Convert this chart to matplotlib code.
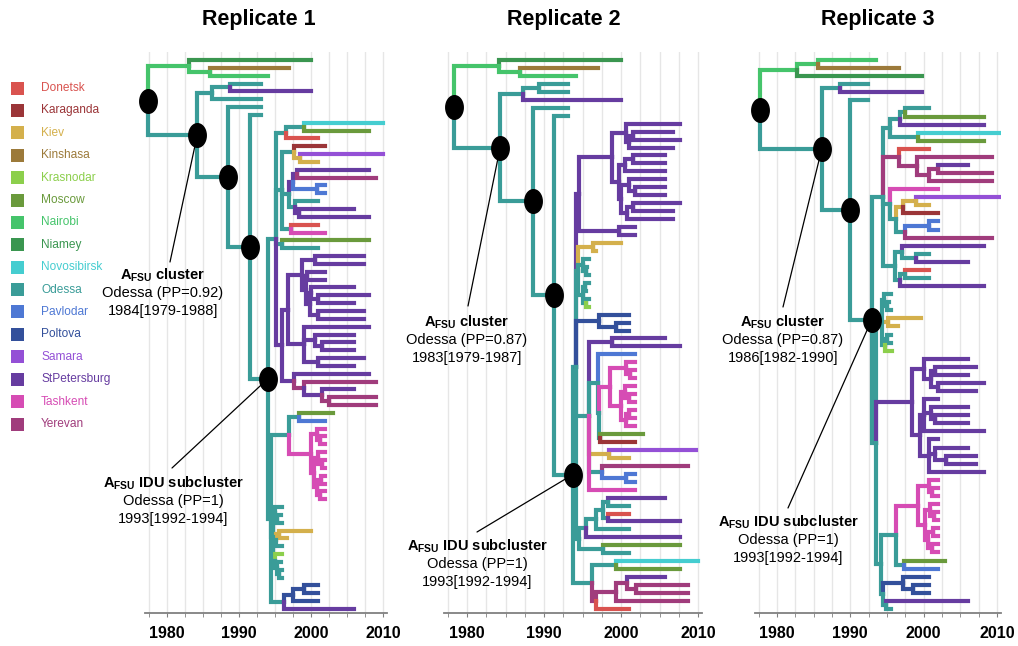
import numpy as np
import matplotlib
matplotlib.use("Agg")
import matplotlib.pyplot as plt
from matplotlib.collections import LineCollection
from matplotlib.patches import Rectangle
from matplotlib.path import Path

plt.rcParams['font.family'] = ['Liberation Sans', 'DejaVu Sans']
plt.rcParams['mathtext.fontset'] = 'custom'
plt.rcParams['mathtext.rm'] = 'Liberation Sans'
plt.rcParams['mathtext.bf'] = 'Liberation Sans:bold'

#%%
# Locations (legend) and their colours
locations = ['Donetsk', 'Karaganda', 'Kiev', 'Kinshasa', 'Krasnodar', 'Moscow',
             'Nairobi', 'Niamey', 'Novosibirsk', 'Odessa', 'Pavlodar', 'Poltova',
             'Samara', 'StPetersburg', 'Tashkent', 'Yerevan']
codes = ['Do', 'Ka', 'Ki', 'Kn', 'Kr', 'Mo', 'Na', 'Ni', 'No', 'Od', 'Pa', 'Po',
         'Sa', 'St', 'Ta', 'Ye']
colors = ['#d9534f', '#9b3538', '#d4b04c', '#9c7a3a', '#8ccf4c', '#6a9a3c',
          '#45c46b', '#3a9650', '#45cdd0', '#3a9c98', '#4e78d4', '#33509b',
          '#9450d6', '#663ca0', '#d64cb4', '#a03c7c']

#%%
# Trees: Newick-like, node = (children)LOC:year, '*' = posterior node marker
rep1 = (
    "("
    "(Ni:2000,(Kn:1997,Na:1994)Na:1986)Na:1983,"
    "("
    "((Od:1993,St:2000)Od:1988.8,Od:1993)Od:1986.3,"
    "(Od:1993,"
    "(Od:1993,"
    "("
    "("
    "((No:2010,Mo:2008)Od:1999,Do:2001)Od:1996.5,"
    "((Ka:2002,(Sa:2010,Ki:2001)Ki:1998.5)Od:1997.6,"
    "(((St:2008,Ye:2009)St:1998.1,(Pa:2002,Pa:2002)Pa:2000.9)St:1997.5,"
    "(Od:2001,(St:2006,St:2008)St:1998.3)Od:1997.8)Od:1997,"
    "(Do:2001,Ta:2002)Od:1997.2)Od:1996,"
    "(Mo:2008,Od:2001)Od:1996,"
    "("
    "("
    "((St:2007.4,St:2007.4)St:2000.5,((St:2002,St:2002)St:1999.5,((St:2006,(St:2008,St:2006)St:2001)St:2000,"
    "(St:2007.4,St:2007.4)St:2001)St:1999.8)St:1999.3)St:1998.7,"
    "(St:2008,(St:2006,(St:2006,St:2006)St:2001.5)St:2000.5,(St:2007.4,St:2006)St:2001)St:1999"
    ")St:1996.8,"
    "(St:2008,(Ye:2009,(St:2006,(Ye:2009,Ye:2009)Ye:2002.5)St:2001.5)Ye:1999)St:1997.6"
    ")St:1996"
    ")Od:1995.2,"
    "("
    "((Mo:2003,Pa:2002)Od:1998.3,"
    "((Ta:2002,(Ta:2002,Ta:2002)Ta:2001.2)Ta:2000.8,((Ta:2002,(Ta:2002,Ta:2002)Ta:2001.5)Ta:2001,"
    "((Ta:2002,Ta:2002)Ta:2001.4,(Ta:2002,Ta:2002)Ta:2001.2)Ta:2000.9)Ta:2000.4)Ta:2000"
    ")Od:1997,"
    "((Od:1996,(Od:1995.8,Od:1996)Od:1995.3)Od:1995,((Ki:2000,Ki:1996.7)Ki:1995.5,Od:1996)Od:1995.2,"
    "(Kr:1996,(Od:1995.8,(Od:1996,Od:1996)Od:1995.6)Od:1995.3)Od:1995)Od:1994.7,"
    "(((Po:2001,Po:2001)Po:1999,Po:2001)Po:1997.5,St:2006)Od:1996.2"
    ")Od:1994.5"
    ")Od:1994*"
    ")Od:1991.5*"
    ")Od:1988.5*"
    ")Od:1984.2*"
    ")Od:1977.3*"
)

rep2 = (
    "("
    "(Ni:2000,(Kn:1997,Na:1994.1)Na:1986.9)Na:1984.2,"
    "("
    "((Od:1993.1,Od:1993.1)Od:1989.3,St:2000)Od:1987.3,"
    "(Od:1993.1,"
    "(Od:1993.1,"
    "("
    "("
    "("
    "("
    "(St:2007.7,((St:2006.7,St:2007.7)St:2001.5,St:2006.7)St:2001)St:2000.7,"
    "(((St:2005.7,St:2005.7)St:2001.5,St:2005.7)St:2000.5,((St:2005.7,(St:2005.7,St:2005.7)St:2001.8)St:2001,"
    "((St:2007.7,St:2006.7)St:2001.5,St:2006.7)St:2000.8)St:2000)St:1999.8"
    ")St:1998.8,"
    "(St:2001.8,St:2001.8)St:1999.8"
    ")St:1994.5,"
    "((Ki:2000,Ki:1996.8)Ki:1996.4,(Od:1995.8,(Od:1995.6,Od:1995.8)Od:1995.4)Od:1995.1,"
    "((Od:1995.8,Od:1995.5)Od:1995.3,(Od:1995.8,Kr:1995.9)Od:1995.4)Od:1995)Od:1994.4,"
    "(Po:2001,(Po:2001,Po:2001)Po:1999.3)Po:1997.2,"
    "("
    "(St:2005.7,St:2007.7)St:1998.8,"
    "(Pa:2001.8,("
    "((Ta:2001.8,(Ta:2001.8,Ta:2001.8)Ta:2001.2)Ta:2000.7,((Ta:2001.8,(Ta:2001.8,Ta:2001.8)Ta:2001)Ta:2000.5,"
    "((Ta:2001.8,Ta:2001.8)Ta:2001,Ta:2001.8)Ta:2000.6)Ta:2000)Ta:1998.6,"
    "(Mo:2002.9,Ka:2001.8)Od:1997.3"
    ")Od:1997.1)Od:1997,"
    "(Sa:2009.7,Ki:2001)Ki:1998.5,"
    "(Ye:2008.7,(Pa:2001.8,Pa:2001.8)Pa:2000.7)Od:1997.5,"
    "Ta:2001.8"
    ")Od:1995.8,"
    "(((((St:2005.7,Od:2001)Od:1998.3,(Do:2001,St:2007.7)Od:1998.3)Od:1997.6,Od:2001)Od:1996.8,"
    "St:2007.7)Od:1995.5,(Mo:2007.7,Od:2001)Od:1997.6)Od:1994.5"
    ")Od:1994.1,"
    "((No:2010,Mo:2007.7)Od:1999.3,(((St:2005.7,(Ye:2008.7,Ye:2008.7)Ye:2002)Ye:2000.8,"
    "Ye:2008.7)Ye:1999.3,Do:2001)Ye:1996.7)Od:1996.2"
    ")Od:1993.7*"
    ")Od:1991.3*"
    ")Od:1988.6*"
    ")Od:1984.3*"
    ")Od:1978.3*"
)

rep3 = (
    "("
    "((Na:1993.5,Kn:1996.6)Na:1985.6,Ni:1999.8)Na:1982.7,"
    "("
    "(Od:1992.4,St:1999.8)Od:1988.6,"
    "(Od:1992.4,"
    "("
    "("
    "(((Od:2000.8,Mo:2008.2)Od:1997.5,St:2008.2)Od:1996.8,(No:2010.4,Mo:2008.2)Od:1999.2)Od:1995.4,"
    "(Do:2000.8,(Ye:2009.3,((St:2006.1,Ye:2009.3)Ye:2001.9,Ye:2009.3)Ye:2000.8)Ye:1999.1)Ye:1996.6,"
    "(Ta:2001.9,(((Sa:2010.4,Ki:2000.8)Ki:1998.9,Ka:2001.9)Ki:1997.2,"
    "((Pa:2001.9,Pa:2001.9)Pa:2000.8,Ye:2009.3)Od:1997.5)Od:1996.2)Od:1995.4,"
    "((St:2008.2,(Od:2000.8,St:2006.1)Od:1998.9)Od:1997,((Do:2000.8,Od:2000.8)Od:1997.5,St:2008.2)Od:1996.8)Od:1996.1"
    ")Od:1994.5,"
    "("
    "((Od:1995.6,(Od:1995.3,Od:1995.6)Od:1995)Od:1994.6,(Ki:1999.7,Ki:1996.5)Ki:1995.2,"
    "((Od:1995.6,Od:1995.5)Od:1995,Kr:1995.7)Od:1994.8)Od:1994.3,"
    "("
    "(St:2006.1,((St:2007.2,St:2006.1)St:2001.5,(St:2008.2,St:2007.2)St:2002)St:2001)St:2000,"
    "((St:2001.9,(St:2006.1,(St:2006.1,St:2006.1)St:2001.5)St:2001,St:2008.2)St:2000,"
    "(St:2002,(St:2006.1,(St:2007.2,St:2007.2)St:2003)St:2001.5,St:2008.2)St:2000.8)St:1999.5"
    ")St:1998.4,"
    "("
    "(((Ta:2001.9,(Ta:2001.9,Ta:2001.9)Ta:2001.2)Ta:2000.7,((Ta:2001.9,(Ta:2001.9,Ta:2001.9)Ta:2001.4)Ta:2000.9,"
    "((Ta:2001.9,Ta:2001.9)Ta:2001.3,(Ta:2001.9,Ta:2001.9)Ta:2001.1)Ta:2000.6)Ta:2000.2)Ta:1999.3,"
    "(Mo:2002.9,Pa:2001.9)Od:1997.3)Od:1996.3,"
    "((Po:2000.8,(Po:2000.8,Po:2000.8)Po:1998.5)Po:1997.2,(St:2006.1,Od:1995.5)Od:1994.9)Od:1994.5"
    ")Od:1994.2"
    ")Od:1993.5"
    ")Od:1992.9*"
    ")Od:1990*"
    ")Od:1986.1*"
    ")Od:1977.7*"
)

trees = [rep1, rep2, rep3]
titles = ['Replicate 1', 'Replicate 2', 'Replicate 3']
cluster_info = [['Odessa (PP=0.92)', '1984[1979-1988]'],
                ['Odessa (PP=0.87)', '1983[1979-1987]'],
                ['Odessa (PP=0.87)', '1986[1982-1990]']]
idu_info = [['Odessa (PP=1)', '1993[1992-1994]']] * 3

# panel geometry in figure pixels: (left, right) for the x range, text anchors
W, H = 1018, 646
panel_lr = [(145.4, 386.6), (443.9, 701.9), (755.0, 1000.6)]
title_x = [259, 564, 878]
cluster_txt = [(163, 275), (467, 322), (783, 322)]
cluster_end = [(170, 262), (468, 306), (783, 307)]
idu_txt = [(173, 483), (477, 546), (788, 522)]
idu_end = [(172, 468), (477, 532), (788, 508)]

#%%
# Small Newick parser and layout
def parse(s):
    s = ''.join(s.split())
    pos = 0

    def node():
        nonlocal pos
        kids = []
        if s[pos] == '(':
            pos += 1
            kids.append(node())
            while s[pos] == ',':
                pos += 1
                kids.append(node())
            pos += 1
        j = pos
        while pos < len(s) and s[pos] not in ',()':
            pos += 1
        loc, t = s[j:pos].split(':')
        return {'loc': loc, 't': float(t.rstrip('*')), 'mark': t.endswith('*'), 'kids': kids}
    return node()


def layout(n, counter):
    if not n['kids']:
        n['y'] = counter[0]
        counter[0] += 1
    else:
        for k in n['kids']:
            layout(k, counter)
        n['y'] = (n['kids'][0]['y'] + n['kids'][-1]['y']) / 2


def walk(n, segs, cols, marked):
    if n['mark']:
        marked.append(n)
    for k in n['kids']:
        segs.append([(n['t'], n['y']), (n['t'], k['y']), (k['t'], k['y'])])
        cols.append(colors[codes.index(k['loc'])])
        walk(k, segs, cols, marked)


theta = np.linspace(0, 2 * np.pi, 64)
ell = Path(np.c_[0.74 * np.cos(theta), np.sin(theta)], closed=True)

#%%
fig = plt.figure(figsize=(W / 100, H / 100), dpi=100)

for p in range(3):
    root = parse(trees[p])
    cnt = [0]
    layout(root, cnt)
    n = cnt[0]
    segs, cols, marked = [], [], []
    walk(root, segs, cols, marked)

    l, r = panel_lr[p]
    ax = fig.add_axes([l / W, 1 - 613 / H, (r - l) / W, (613 - 52) / H])
    ppt = 549 / (n - 1)
    ax.set_ylim(n - 1 + 4 / ppt, -8 / ppt)
    ax.set_xlim(1977, 2010.5)

    lc = LineCollection(segs, colors=cols, linewidths=3.0, capstyle='projecting',
                        joinstyle='miter', zorder=2)
    ax.add_collection(lc)

    for m in marked:
        ax.plot(m['t'], m['y'], marker=ell, ms=17, color='black', zorder=5,
                ls='none', clip_on=False)

    ax.set_xticks([1980, 1990, 2000, 2010])
    ax.set_xticks(np.arange(1977.5, 2010.6, 2.5), minor=True)
    ax.grid(True, which='both', axis='x', color='#e6e6e6', lw=1, zorder=0)
    ax.set_axisbelow(True)
    ax.set_yticks([])
    for sp in ['left', 'right', 'top']:
        ax.spines[sp].set_visible(False)
    ax.spines['bottom'].set_color('#808080')
    ax.spines['bottom'].set_linewidth(1.3)
    ax.tick_params(axis='x', which='both', length=3, color='#808080', pad=6)
    for lab in ax.get_xticklabels():
        lab.set_fontweight('bold')
        lab.set_fontsize(11.5)

    fig.text(title_x[p] / W, 1 - 20 / H, titles[p], ha='center', va='center',
             fontsize=15.5, fontweight='bold')

    # annotations
    for node, txt, end, info, head in [
            (marked[1], cluster_txt[p], cluster_end[p], cluster_info[p], ' cluster'),
            (marked[-1], idu_txt[p], idu_end[p], idu_info[p], ' IDU subcluster')]:
        ax.annotate('', xy=(node['t'], node['y']), xycoords='data',
                    xytext=(end[0], H - end[1]), textcoords='figure pixels',
                    arrowprops=dict(arrowstyle='-', color='black', lw=0.9,
                                    shrinkA=0, shrinkB=0),
                    annotation_clip=False, zorder=4)
        fig.text(txt[0] / W, 1 - txt[1] / H, r'$\mathbf{A_{FSU}}$' + head,
                 ha='center', va='center', fontsize=10.5, fontweight='bold')
        for i, line in enumerate(info):
            fig.text(txt[0] / W, 1 - (txt[1] + 18 * (i + 1)) / H, line,
                     ha='center', va='center', fontsize=10.5)

# legend
for i, (name, c) in enumerate(zip(locations, colors)):
    y = 88 + i * 22.4
    fig.add_artist(Rectangle((11 / W, 1 - (y + 6.5) / H), 13 / W, 13 / H,
                             transform=fig.transFigure, color=c, lw=0))
    fig.text(41 / W, 1 - y / H, name, color=c, fontsize=8.6, va='center')

fig.savefig('out.png', dpi=100)
